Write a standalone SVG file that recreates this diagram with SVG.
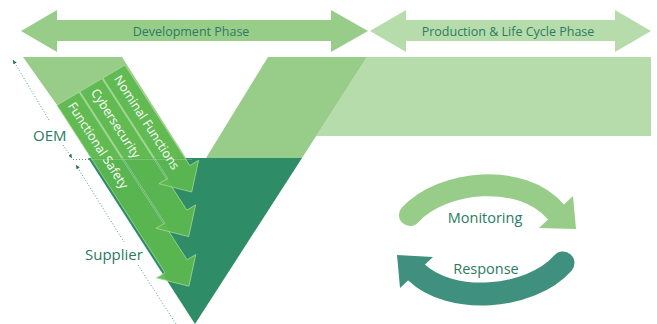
<svg xmlns="http://www.w3.org/2000/svg" width="657" height="324" viewBox="0 0 657 324">
  <style>
    .lbl { font-family: "Open Sans", "Liberation Sans", sans-serif; fill: #2B7B63; }
    .lane { fill: #5DB84E; fill-opacity: 0.92; stroke: #B4DEA8; stroke-width: 0.7; stroke-linejoin: miter; }
    .laneText { font-family: "Open Sans", "Liberation Sans", sans-serif; font-size: 12.5px; fill: #FFFFFF; }
    .dim { fill: none; stroke: #3E8E7A; stroke-width: 0.9; stroke-dasharray: 1 2; }
  </style>
  <defs>
    <marker id="dimHead" viewBox="0 0 6 6" refX="6" refY="3" markerWidth="4" markerHeight="4" markerUnits="userSpaceOnUse" orient="auto-start-reverse">
      <path d="M0,0 L6,3 L0,6 Z" fill="#2B6F5E"/>
    </marker>
  </defs>

  <!-- phase arrows -->
  <g id="development-phase">
    <path d="M21,31 L57,10 L57,20 L331,20 L331,10 L368,31 L331,52 L331,41 L57,41 L57,52 Z" fill="#98CD89"/>
    <text class="lbl" x="191" y="36" font-size="12.5" text-anchor="middle">Development Phase</text>
  </g>
  <g id="production-phase">
    <path d="M370,31 L406,10 L406,20 L615,20 L615,10 L651,31 L615,52 L615,41 L406,41 L406,52 Z" fill="#B6DCAB"/>
    <text class="lbl" x="508" y="36" font-size="12.5" text-anchor="middle">Production &amp; Life Cycle Phase</text>
  </g>

  <!-- V model -->
  <g id="v-model">
    <path d="M367,57 L651,57 L651,136 L316,136 Z" fill="#B6DCAB"/>
    <path d="M23,57 L122,57 L186,158 L91,158 L57,105 Z" fill="#98CD89"/>
    <path d="M268,57 L367,57 L302,158 L206,158 Z" fill="#98CD89"/>
    <path d="M88,158 L302,158 L195,324 Z" fill="#2E8C66"/>
  </g>

  <!-- OEM / supplier boundary -->
  <g id="boundary">
    <line class="dim" x1="73" y1="159.5" x2="91" y2="159.5"/>
  </g>

  <!-- lanes -->
  <g id="lane-functional-safety">
    <path class="lane" d="M57,105.2 L79,92.2 L187,259.7 L195.8,254.5 L188.9,286.2 L156.2,277.9 L165,272.7 Z"/>
    <text class="laneText" transform="translate(71.3,103.5) rotate(57.2)" dy="0.35em">Functional Safety</text>
  </g>
  <g id="lane-cybersecurity">
    <path class="lane" d="M80,91.6 L102,78.6 L186.8,210.1 L195.6,204.9 L188.7,236.6 L156,228.3 L164.8,223.1 Z"/>
    <text class="laneText" transform="translate(94.3,90) rotate(57.2)" dy="0.35em">Cybersecurity</text>
  </g>
  <g id="lane-nominal-functions">
    <path class="lane" d="M103,78 L125,65 L189.8,165.5 L198.6,160.3 L191.7,192 L159,183.7 L167.8,178.5 Z"/>
    <text class="laneText" transform="translate(117.3,76.5) rotate(57.2)" dy="0.35em">Nominal Functions</text>
  </g>

  <line x1="91" y1="159.5" x2="192" y2="159.5" stroke="#FFFFFF" stroke-opacity="0.25" stroke-width="0.8"/>

  <!-- OEM / supplier dimension lines -->
  <g id="dimensions">
    <path class="dim" d="M13,60 L49,120" marker-start="url(#dimHead)"/>
    <path class="dim" d="M63,145 L72,158" marker-end="url(#dimHead)"/>
    <path class="dim" d="M76,165 L124,242" marker-start="url(#dimHead)"/>
    <path class="dim" d="M138,265 L176,324"/>
  </g>
  <g id="oem-label">
    <text class="lbl" x="33" y="141" font-size="15">OEM</text>
  </g>
  <g id="supplier-label">
    <text class="lbl" x="85" y="260" font-size="15">Supplier</text>
  </g>

  <!-- monitoring / response cycle -->
  <g id="monitoring">
    <path d="M410,215 C442,180 522,172 556,212" fill="none" stroke="#98CD89" stroke-width="22" stroke-linecap="round"/>
    <path d="M573,196 L576,229 L539,228 Z" fill="#98CD89"/>
    <text class="lbl" x="485" y="223" font-size="14.5" text-anchor="middle">Monitoring</text>
  </g>
  <g id="response">
    <path d="M563,263 C530,300 450,305 416,272" fill="none" stroke="#3F907E" stroke-width="23" stroke-linecap="round"/>
    <path d="M433,257 L397,255 L400,288 Z" fill="#3F907E"/>
    <text class="lbl" x="486" y="274" font-size="14.5" text-anchor="middle">Response</text>
  </g>
</svg>
